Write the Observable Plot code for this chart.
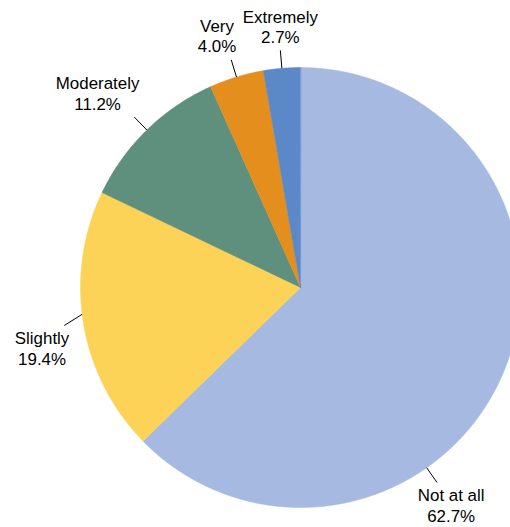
<!DOCTYPE html>
<html><head><meta charset="utf-8">
<script src="https://cdn.jsdelivr.net/npm/d3@7"></script>
<script src="https://cdn.jsdelivr.net/npm/@observablehq/plot@0.6"></script>
<style>html,body{margin:0;padding:0;background:#fff;overflow:hidden}</style>
</head><body><div id="chart"></div>
<script>
// ---- data ----
const categories = ["Not at all", "Slightly", "Moderately", "Very", "Extremely"];
const values = [62.7, 19.4, 11.2, 4.0, 2.7];
const colors = ["#a6b9e0", "#fdd357", "#5f8f7d", "#e48f1d", "#5b89c8"];

// ---- layout ----
const W = 510, H = 527;
const R = 220;                     // pie radius in px
const CX = 300, CY = 287;          // pie centre in px
const FONT = "Liberation Sans, Helvetica, Arial, sans-serif";
const FS = 16.9;
const leaderR = 238 / R;
// label overrides (some labels are moved off their mid-angle)
const labelOverride = {
  "Not at all": {angleDeg: 145, ax: 0.5},
  "Slightly": {angleDeg: 263, endDy: 9}
};

const ctx = document.createElement("canvas").getContext("2d");
ctx.font = `${FS}px ${FONT}`;
const measure = s => ctx.measureText(s).width;

const points = [];
const leaders = [];
const labels = [];
let cum = 0;
categories.forEach((cat, i) => {
  const v = values[i];
  const a0 = cum / 100 * 2 * Math.PI;
  const a1 = (cum + v) / 100 * 2 * Math.PI;
  cum += v;
  points.push({cat, x: 0, y: 0});
  const n = Math.max(2, Math.ceil((a1 - a0) / (Math.PI / 360)));
  for (let k = 0; k <= n; k++) {
    const a = a0 + (a1 - a0) * k / n;
    points.push({cat, x: Math.sin(a), y: Math.cos(a)});
  }
  const ov = labelOverride[cat] || {};
  const th = ov.angleDeg != null ? ov.angleDeg * Math.PI / 180 : (a0 + a1) / 2;
  const s = Math.sin(th), c = Math.cos(th);
  const ex = s * leaderR, ey = c * leaderR - (ov.endDy || 0) / R;
  leaders.push({x1: s, y1: c, x2: ex, y2: ey});
  const pct = v.toFixed(1) + "%";
  const w = Math.max(measure(cat), measure(pct));
  const ax = ov.ax != null ? ov.ax : (Math.abs(s) < 0.2 ? 0 : Math.sign(s));
  const tx = ex + ax * (w / 2 - 5) / R;
  const ty = c > 0 ? ey + 24.2 / R : ey - 22.6 / R;
  labels.push({x: tx, y: ty, text: cat + "\n" + pct});
});

const chart = Plot.plot({
  width: W, height: H,
  margin: 0,
  x: {domain: [-CX / R, (W - CX) / R], range: [0, W], axis: null},
  y: {domain: [CY / R, -(H - CY) / R], range: [0, H], axis: null},
  color: {domain: categories, range: colors},
  style: {fontFamily: FONT, background: "#fff"},
  marks: [
    Plot.line(points, {x: "x", y: "y", z: "cat", fill: "cat", stroke: "cat", strokeWidth: 0.5, curve: "linear-closed"}),
    Plot.link(leaders, {x1: "x1", y1: "y1", x2: "x2", y2: "y2", stroke: "#000", strokeWidth: 1}),
    Plot.text(labels, {x: "x", y: "y", text: "text", fontSize: FS, lineHeight: 1.2, fill: "#000", textAnchor: "middle"})
  ]
});
document.getElementById("chart").appendChild(chart);
</script>
</body></html>
